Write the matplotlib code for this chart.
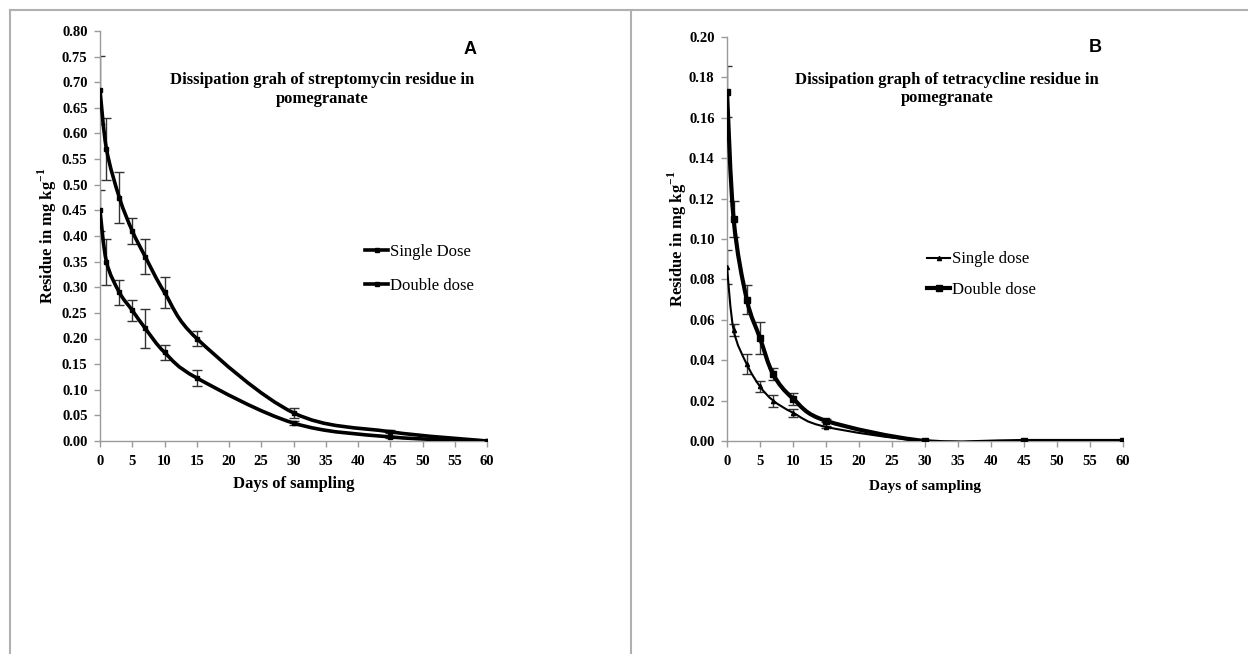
import numpy as np
import matplotlib
matplotlib.use('Agg')
import matplotlib.pyplot as plt
from matplotlib.path import Path
from matplotlib.patches import PathPatch
from matplotlib.lines import Line2D

plt.rcParams['font.family'] = 'Liberation Serif'
plt.rcParams['mathtext.fontset'] = 'custom'
plt.rcParams['mathtext.rm'] = 'Liberation Serif'
plt.rcParams['mathtext.bf'] = 'Liberation Serif:bold'

# ---- data ----
days = [0, 1, 3, 5, 7, 10, 15, 30, 45, 60]

# panel A : streptomycin (mg/kg)
strep_single = [0.450, 0.350, 0.290, 0.255, 0.220, 0.173, 0.123, 0.035, 0.008, 0.000]
strep_single_err = [0.040, 0.045, 0.025, 0.020, 0.038, 0.015, 0.015, 0.004, 0.002, 0.0]
strep_double = [0.685, 0.570, 0.475, 0.410, 0.360, 0.290, 0.200, 0.055, 0.018, 0.000]
strep_double_err = [0.066, 0.060, 0.050, 0.025, 0.035, 0.030, 0.015, 0.010, 0.003, 0.0]

# panel B : tetracycline (mg/kg)
tetra_single = [0.086, 0.055, 0.038, 0.027, 0.020, 0.014, 0.007, 0.000, 0.000, 0.000]
tetra_single_err = [0.0085, 0.003, 0.005, 0.0025, 0.003, 0.002, 0.0005, 0.0, 0.0, 0.0]
tetra_double = [0.173, 0.110, 0.070, 0.051, 0.033, 0.021, 0.010, 0.000, 0.000, 0.000]
tetra_double_err = [0.0125, 0.009, 0.007, 0.008, 0.003, 0.003, 0.0007, 0.0, 0.0, 0.0]


def smooth_path(x, y):
    """Excel-like smoothed line: cubic bezier through the points"""
    p = np.column_stack([x, y]).astype(float)
    n = len(p)
    verts = [p[0]]
    codes = [Path.MOVETO]
    for i in range(n - 1):
        p_prev = p[i - 1] if i > 0 else p[i]
        p_next2 = p[i + 2] if i + 2 < n else p[i + 1]
        c1 = p[i] + (p[i + 1] - p_prev) / 6.0
        c2 = p[i + 1] - (p_next2 - p[i]) / 6.0
        verts += [c1, c2, p[i + 1]]
        codes += [Path.CURVE4] * 3
    return Path(verts, codes)


def style_axes(ax, ymax, ystep):
    for s in ['top', 'right']:
        ax.spines[s].set_visible(False)
    for s in ['left', 'bottom']:
        ax.spines[s].set_color('#9a9a9a')
        ax.spines[s].set_linewidth(1.0)
    ax.set_xlim(0, 60)
    ax.set_ylim(0, ymax)
    ax.set_xticks(np.arange(0, 61, 5))
    ax.set_yticks(np.arange(0, ymax + ystep / 2, ystep))
    ax.yaxis.set_major_formatter(matplotlib.ticker.FormatStrFormatter('%.2f'))
    ax.tick_params(axis='both', colors='#9a9a9a', length=4, width=1, labelcolor='black')
    ax.tick_params(axis='y', pad=5)
    ax.tick_params(axis='x', pad=6)
    for lab in ax.get_xticklabels() + ax.get_yticklabels():
        lab.set_fontweight('bold')
        lab.set_fontsize(10.5)


def draw_series(ax, x, y, err, lw, marker, ms):
    ax.add_patch(PathPatch(smooth_path(x, y), fill=False, lw=lw, edgecolor='black',
                           transform=ax.transData, capstyle='round', zorder=3))
    ax.errorbar(x, y, yerr=err, fmt='none', ecolor='#333333', elinewidth=1.0,
                capsize=3.5, capthick=1.0, zorder=2)
    ax.plot(x, y, linestyle='none', marker=marker, ms=ms, color='black', zorder=4)


ylab = 'Residue in mg kg$^{\\mathbf{-1}}$'

fig = plt.figure(figsize=(12.48, 6.54), dpi=100)

# panel frames
fig.add_artist(Line2D([10 / 1248, 1.0], [1 - 10 / 654] * 2, color='#b0b0b0', lw=1.5))
fig.add_artist(Line2D([10 / 1248] * 2, [0, 1 - 10 / 654], color='#b0b0b0', lw=1.5))
fig.add_artist(Line2D([631 / 1248] * 2, [0, 1 - 12 / 654], color='#b0b0b0', lw=1.5))

# ---- panel A ----
axA = fig.add_axes([100 / 1248, 1 - 441 / 654, 387 / 1248, 410 / 654])
style_axes(axA, 0.80, 0.05)
draw_series(axA, days, strep_single, strep_single_err, 2.6, 's', 3)
draw_series(axA, days, strep_double, strep_double_err, 2.6, 's', 3.5)
axA.set_xlabel('Days of sampling', fontsize=12, fontweight='bold', labelpad=6)
axA.set_ylabel(ylab, fontsize=12, fontweight='bold', labelpad=2)
axA.text(0.956, 0.956, 'A', transform=axA.transAxes, fontsize=13, fontweight='bold',
         family='Liberation Sans', ha='center', va='center')
axA.text(0.575, 0.857, 'Dissipation grah of streptomycin residue in\npomegranate',
         transform=axA.transAxes, fontsize=12, fontweight='bold', ha='center', va='center',
         linespacing=1.2)
hA = [Line2D([], [], color='black', lw=2.6, marker='s', ms=3),
      Line2D([], [], color='black', lw=2.6, marker='s', ms=3)]
axA.legend(hA, ['Single Dose', 'Double dose'], loc='center left', bbox_to_anchor=(0.685, 0.42),
           frameon=False, fontsize=12, handlelength=1.4, handletextpad=0.1, labelspacing=1.1,
           borderpad=0, borderaxespad=0)

# ---- panel B ----
axB = fig.add_axes([727 / 1248, 1 - 441 / 654, 396 / 1248, 404 / 654])
style_axes(axB, 0.20, 0.02)
draw_series(axB, days, tetra_single, tetra_single_err, 1.5, '^', 3)
draw_series(axB, days, tetra_double, tetra_double_err, 3.0, 's', 5)
axB.set_xlabel('Days of sampling', fontsize=11, fontweight='bold', labelpad=9)
axB.set_ylabel(ylab, fontsize=12, fontweight='bold', labelpad=0)
axB.text(0.929, 0.975, 'B', transform=axB.transAxes, fontsize=13, fontweight='bold',
         family='Liberation Sans', ha='center', va='center')
axB.text(0.555, 0.872, 'Dissipation graph of tetracycline residue in\npomegranate',
         transform=axB.transAxes, fontsize=12, fontweight='bold', ha='center', va='center',
         linespacing=1.2)
hB = [Line2D([], [], color='black', lw=1.5, marker='^', ms=3),
      Line2D([], [], color='black', lw=3.0, marker='s', ms=5)]
axB.legend(hB, ['Single dose', 'Double dose'], loc='center left', bbox_to_anchor=(0.505, 0.412),
           frameon=False, fontsize=12, handlelength=1.4, handletextpad=0.1, labelspacing=0.85,
           borderpad=0, borderaxespad=0)

plt.savefig('out.png', dpi=100)
